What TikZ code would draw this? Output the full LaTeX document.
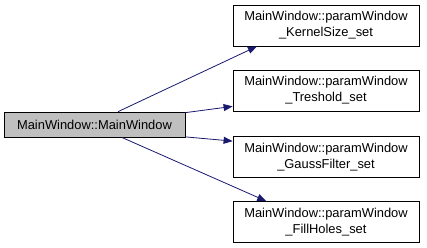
\documentclass[tikz,border=0pt]{standalone}
\usepackage{fontspec}
\setmainfont{Liberation Sans}
\definecolor{edgeblue}{RGB}{25,25,112}
\definecolor{callgray}{RGB}{191,191,191}
\usetikzlibrary{calc, arrows.meta}

\begin{document}
\begin{tikzpicture}[x=1pt, y=-1pt,
    box/.style={draw=black, line width=0.8pt, minimum width=186pt, minimum height=41pt,
      inner sep=2pt, align=center, font=\fontsize{12.9}{16}\selectfont},
    arrow/.style={-{Triangle[length=9pt, width=7pt]}, edgeblue, line width=0.8pt},
  ]
    \useasboundingbox (0,0) rectangle (427,248);

    \node[box, fill=callgray, minimum width=181pt, minimum height=25pt] (main) at (94.5,124.5) {MainWindow::MainWindow};

    \node[box] (kernel) at (326,25.5) {MainWindow::paramWindow\\\_KernelSize\_set};
    \node[box] (thresh) at (326,90.5) {MainWindow::paramWindow\\\_Treshold\_set};
    \node[box] (gauss) at (326,157) {MainWindow::paramWindow\\\_GaussFilter\_set};
    \node[box] (holes) at (326,222) {MainWindow::paramWindow\\\_FillHoles\_set};

    \draw[arrow] ($(main.north west)!0.63!(main.north east)$) -- ($(kernel.south west)!0.13!(kernel.south east)$);
    \draw[arrow] ($(main.north east)!0.04!(main.south east)$) -- ($(thresh.north west)!0.88!(thresh.south west)$);
    \draw[arrow] ($(main.north east)!0.98!(main.south east)$) -- ($(gauss.north west)!0.12!(gauss.south west)$);
    \draw[arrow] ($(main.south west)!0.65!(main.south east)$) -- ($(holes.north west)!0.18!(holes.north east)$);
  \end{tikzpicture}
\end{document}
